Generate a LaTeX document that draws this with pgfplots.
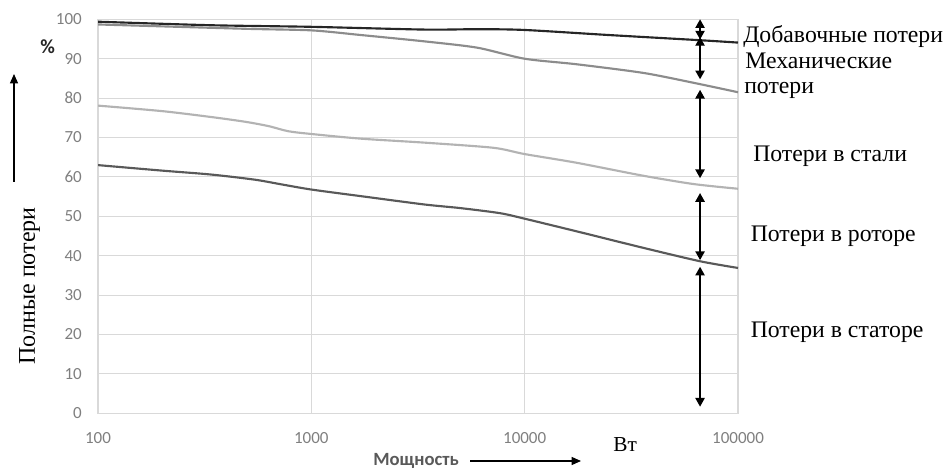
\documentclass[border=0pt]{standalone}
\usepackage{fontspec}
\setmainfont{Liberation Serif}
\newfontfamily\calibri{Carlito}
\usepackage{pgfplots}
\pgfplotsset{compat=1.18}
\usetikzlibrary{arrows.meta}
\definecolor{tickgray}{HTML}{7F7F7F}
\definecolor{gridgray}{HTML}{D9D9D9}
\definecolor{lineA}{HTML}{262626}
\definecolor{lineB}{HTML}{8C8C8C}
\definecolor{lineC}{HTML}{B3B3B3}
\definecolor{lineD}{HTML}{595959}
\tikzset{dbl/.style={line width=1pt,{Triangle[width=7pt,length=6.5pt]}-{Triangle[width=7pt,length=6.5pt]}}}

\begin{document}
\begin{tikzpicture}
\begin{scope}[x=0.75pt,y=-0.75pt]
\useasboundingbox (0,0) rectangle (947,474);
\end{scope}
\begin{axis}[
    at={(73.5pt,-310pt)}, anchor=south west,
    width=480pt, height=295.5pt, scale only axis,
    xmode=log, xmin=100, xmax=100000, ymin=0, ymax=100,
    xtick={100,1000,10000,100000},
    xticklabels={100,1000,10000,100000},
    xminorticks=false,
    ytick={0,10,...,100},
    grid=major,
    grid style={draw=gridgray, line width=0.75pt},
    axis line style={draw=gridgray, line width=0.9pt},
    major tick length=0pt,
    tick label style={font=\calibri\fontsize{12.75}{14}\selectfont, text=tickgray},
    /pgf/number format/assume math mode=true,
    yticklabel style={anchor=east, inner sep=0pt, xshift=-12pt},
    xticklabel style={anchor=north, inner sep=0pt, yshift=-14pt},
    every axis plot/.append style={line width=1.6pt, smooth, tension=0.45},
]
% Добавочные потери (верхняя граница)
\addplot[lineA] coordinates {(100,99.4)(340,98.5)(1000,98.1)(3400,97.4)(6000,97.5)(10000,97.3)(25100,96)(66400,94.7)(100000,94.1)};
% Механические потери
\addplot[lineB] coordinates {(100,98.7)(490,97.6)(1000,97.2)(1720,96.0)(3400,94.4)(6000,92.8)(10000,90)(17500,88.6)(36000,86.4)(61800,83.9)(100000,81.5)};
% Потери в стали
\addplot[lineC] coordinates {(100,78.1)(200,76.7)(340,75.2)(490,74)(630,72.9)(780,71.6)(1000,70.9)(1720,69.7)(3400,68.7)(7130,67.4)(10000,65.8)(17500,63.6)(36000,60.3)(61800,58.2)(100000,57)};
% Потери в роторе
\addplot[lineD] coordinates {(100,63)(200,61.6)(340,60.6)(544,59.3)(726,58.1)(1000,56.8)(1720,55.1)(3400,53.0)(4980,52.1)(7670,50.8)(10000,49.4)(17500,46.2)(36000,42)(66400,38.6)(100000,36.9)};
\draw[dbl] (axis cs:66400,100) -- (axis cs:66400,94.9);
\draw[dbl] (axis cs:66400,95.5) -- (axis cs:66400,84.8);
\draw[dbl] (axis cs:66400,82.1) -- (axis cs:66400,59.7);
\draw[dbl] (axis cs:66400,55.9) -- (axis cs:66400,38.9);
\draw[dbl] (axis cs:66400,37.2) -- (axis cs:66400,1.7);
\end{axis}
\begin{scope}[x=0.75pt,y=-0.75pt]
\tikzset{lbl/.style={anchor=base west, inner sep=0pt, font=\fontsize{17.8}{20}\selectfont}}
\node[lbl] at (743,43) {Добавочные потери};
\node[lbl] at (745,68.3) {Механические};
\node[lbl] at (744,93.3) {потери};
\node[lbl] at (753,161.7) {Потери в стали};
\node[lbl] at (750.5,241.7) {Потери в роторе};
\node[lbl] at (750.5,337.3) {Потери в статоре};
\node[anchor=base west, inner sep=0pt, font=\fontsize{16}{18}\selectfont] at (613,451.7) {Вт};
\node[anchor=base west, inner sep=0pt, font=\calibri\bfseries\fontsize{14}{16}\selectfont, text=lineD] at (373,465) {Мощность};
\draw[line width=0.9pt,-{Triangle[width=6pt,length=7pt]}] (470,461) -- (581,461);
\node[anchor=base west, inner sep=0pt, font=\calibri\bfseries\fontsize{15}{17}\selectfont, text=lineA] at (40,54) {\%};
\draw[line width=0.9pt,-{Triangle[width=6pt,length=7pt]}] (14,182) -- (14,74);
\node[anchor=base, inner sep=0pt, rotate=90, font=\fontsize{18}{20}\selectfont] at (35,286) {Полные потери};
\end{scope}
\end{tikzpicture}
\end{document}
